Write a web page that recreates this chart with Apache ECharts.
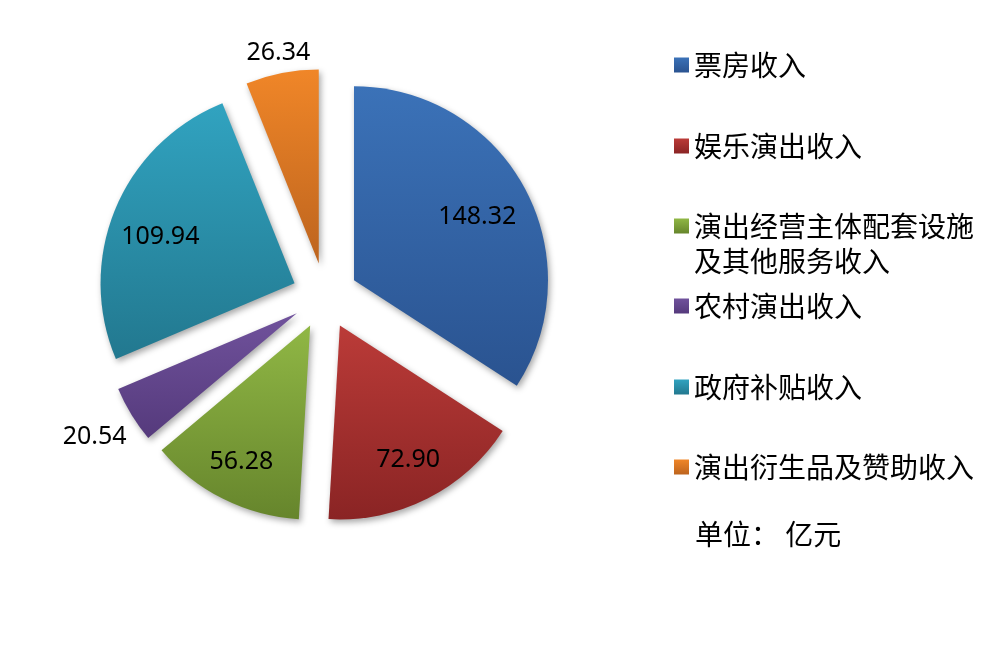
<!DOCTYPE html>
<html>
<head>
<meta charset="utf-8">
<script src="https://cdn.jsdelivr.net/npm/echarts@6/dist/echarts.min.js"></script>
<style>
  html, body { margin: 0; padding: 0; background: #fff; }
  #chart { width: 997px; height: 672px; }
</style>
</head>
<body>
<div id="chart"></div>
<script>
// ---- data ----
var categories = ['票房收入', '娱乐演出收入', '演出经营主体配套设施\n及其他服务收入', '农村演出收入', '政府补贴收入', '演出衍生品及赞助收入'];
var values = [148.32, 72.90, 56.28, 20.54, 109.94, 26.34];
var unitLabel = '单位： 亿元';

// ---- styles ----
var colorTop = ['#3b72b8', '#bb3b38', '#90b745', '#70529c', '#31a3c0', '#f08628'];
var colorBottom = ['#2a5390', '#8a2424', '#66852c', '#553a7c', '#22788f', '#bd641e'];
// distance of each value label from its slice's apex (px) and small nudges
var labelDist = [138, 151, 153, 237, 141, 213];
var labelNudge = [[2, 3], [0, 0], [0, 0], [0, 0], [-4, 8], [0, -2]];
var legendCenterY = [65, 146, 226, 306, 387, 467];

var CENTER = [325, 296];
var R = 194;
var OFFSET = 33;

function grad(i) {
  return new echarts.graphic.LinearGradient(0, 0, 0, 1, [
    { offset: 0, color: colorTop[i] },
    { offset: 1, color: colorBottom[i] }
  ]);
}

var mainData = categories.map(function (c, i) {
  return {
    name: c,
    value: values[i],
    selected: true,
    itemStyle: { color: grad(i) }
  };
});

var series = [{
  type: 'pie',
  center: CENTER,
  radius: [0, R],
  startAngle: 90,
  clockwise: true,
  selectedMode: 'multiple',
  selectedOffset: OFFSET,
  avoidLabelOverlap: false,
  silent: true,
  label: { show: false },
  labelLine: { show: false },
  itemStyle: {
    shadowBlur: 6,
    shadowOffsetX: 2,
    shadowOffsetY: 3,
    shadowColor: 'rgba(0,0,0,0.35)'
  },
  emphasis: { disabled: true },
  data: mainData
}];

// transparent label carrier series, one per slice
categories.forEach(function (c, k) {
  var mid = labelDist[k] - 3;
  var dx = labelNudge[k][0], dy = labelNudge[k][1];
  var pad = [0, Math.max(-2 * dx, 0), 0, Math.max(2 * dx, 0)];
  var lh = dy !== 0 ? Math.abs(dy) * 2 : 25;
  series.push({
    type: 'pie',
    center: CENTER,
    radius: [mid - 8, mid + 8],
    startAngle: 90,
    clockwise: true,
    selectedMode: 'multiple',
    selectedOffset: OFFSET,
    avoidLabelOverlap: false,
    silent: true,
    z: 5,
    itemStyle: { color: 'rgba(0,0,0,0)' },
    emphasis: { disabled: true },
    labelLine: { show: false },
    data: categories.map(function (cc, i) {
      return {
        name: cc,
        value: values[i],
        selected: true,
        label: {
          show: i === k,
          position: 'inside',
          color: '#000',
          fontFamily: 'Noto Sans',
          fontSize: 25,
          lineHeight: lh,
          padding: pad,
          formatter: function (p) {
            var t = p.value.toFixed(2);
            if (dy > 0) return '\n' + t;
            if (dy < 0) return t + '\n';
            return t;
          }
        }
      };
    })
  });
});

var legends = categories.map(function (c, i) {
  var twoLine = c.indexOf('\n') >= 0;
  return {
    orient: 'vertical',
    left: 674,
    top: twoLine ? legendCenterY[i] - 52.5 : legendCenterY[i] - 14,
    padding: 0,
    icon: 'rect',
    itemWidth: 15,
    itemHeight: 15,
    selectedMode: false,
    data: [c],
    formatter: function (name) { return twoLine ? ' \n' + name : name; },
    textStyle: {
      color: '#000',
      fontFamily: 'Noto Sans CJK SC',
      fontSize: 28,
      lineHeight: twoLine ? 35 : 28
    }
  };
});

var chart = echarts.init(document.getElementById('chart'));
chart.setOption({
  animation: false,
  backgroundColor: '#fff',
  title: {
    text: unitLabel,
    left: 695,
    top: 520,
    padding: 0,
    textStyle: {
      color: '#000',
      fontFamily: 'Noto Sans CJK SC',
      fontSize: 28,
      fontWeight: 'normal'
    }
  },
  legend: legends,
  series: series
});
</script>
</body>
</html>
